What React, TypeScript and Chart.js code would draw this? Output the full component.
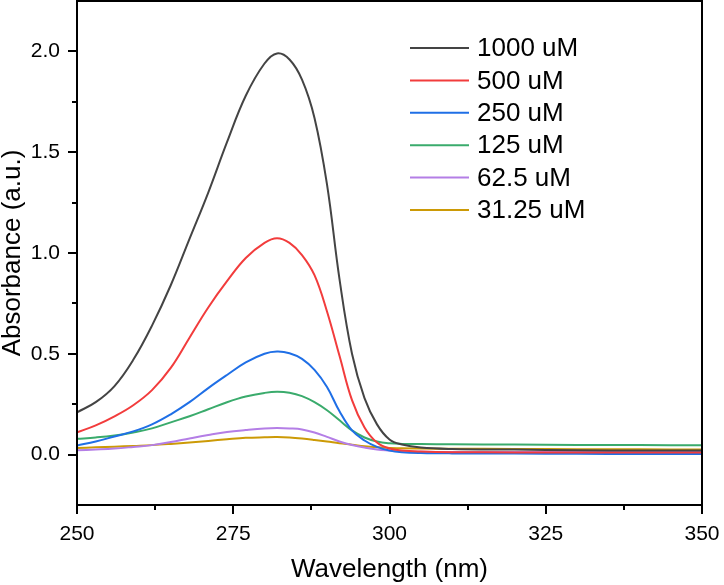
import { useEffect, useRef } from 'react';
import { Chart, registerables } from 'chart.js';

Chart.register(...registerables);

// ---- data ----
const wavelengths = [250, 253, 256, 259, 262, 265, 268, 271, 274, 277, 280, 282, 284, 286, 288, 290, 292, 294, 296, 298, 300, 302, 305, 310, 320, 330, 340, 350];

const abs1000 = [0.21, 0.26, 0.34, 0.47, 0.64, 0.84, 1.07, 1.30, 1.55, 1.78, 1.94, 1.99, 1.96, 1.86, 1.67, 1.34, 0.87, 0.50, 0.28, 0.15, 0.075, 0.05, 0.035, 0.028, 0.025, 0.022, 0.02, 0.02];
const abs500 = [0.11, 0.145, 0.19, 0.245, 0.32, 0.43, 0.58, 0.73, 0.86, 0.975, 1.05, 1.073, 1.05, 0.99, 0.89, 0.71, 0.49, 0.27, 0.135, 0.06, 0.03, 0.02, 0.015, 0.012, 0.011, 0.01, 0.01, 0.01];
const abs250 = [0.045, 0.065, 0.09, 0.115, 0.15, 0.2, 0.26, 0.33, 0.395, 0.457, 0.5, 0.511, 0.503, 0.475, 0.42, 0.335, 0.215, 0.12, 0.07, 0.038, 0.02, 0.012, 0.008, 0.006, 0.005, 0.004, 0.003, 0.003];
const abs125 = [0.078, 0.085, 0.095, 0.11, 0.13, 0.16, 0.19, 0.225, 0.26, 0.288, 0.306, 0.312, 0.307, 0.29, 0.26, 0.22, 0.17, 0.12, 0.085, 0.065, 0.056, 0.053, 0.052, 0.051, 0.05, 0.048, 0.047, 0.046];
const abs62 = [0.021, 0.025, 0.03, 0.038, 0.047, 0.062, 0.08, 0.097, 0.112, 0.122, 0.13, 0.132, 0.13, 0.125, 0.11, 0.088, 0.065, 0.048, 0.035, 0.025, 0.02, 0.016, 0.014, 0.013, 0.013, 0.013, 0.013, 0.013];
const abs31 = [0.033, 0.036, 0.039, 0.043, 0.047, 0.053, 0.06, 0.068, 0.076, 0.083, 0.086, 0.087, 0.085, 0.08, 0.073, 0.065, 0.056, 0.049, 0.041, 0.036, 0.033, 0.031, 0.03, 0.029, 0.028, 0.027, 0.026, 0.025];

const seriesLabels = ['1000 uM', '500 uM', '250 uM', '125 uM', '62.5 uM', '31.25 uM'];
const seriesValues = [abs1000, abs500, abs250, abs125, abs62, abs31];

const xTicks = [250, 275, 300, 325, 350];
const xMinorTicks = [262.5, 287.5, 312.5, 337.5];
const yTicks = [0, 0.5, 1.0, 1.5, 2.0];
const yMinorTicks = [0.25, 0.75, 1.25, 1.75];

// ---- style ----
const seriesColors = ['#444444', '#f23c3c', '#1f6fe6', '#3aab6c', '#b47ee6', '#cc9a06'];
const FONT = "'Liberation Sans', Arial, Helvetica, sans-serif";

const framePlugin = {
  id: 'frame',
  afterDraw(chart: any) {
    const { ctx, chartArea: a, scales } = chart;
    ctx.save();
    ctx.strokeStyle = '#000';
    ctx.lineWidth = 2;
    ctx.strokeRect(a.left, a.top, a.right - a.left, a.bottom - a.top);
    ctx.beginPath();
    xTicks.forEach((v) => {
      const x = Math.round(scales.x.getPixelForValue(v));
      ctx.moveTo(x, a.bottom);
      ctx.lineTo(x, a.bottom + 9);
    });
    xMinorTicks.forEach((v) => {
      const x = Math.round(scales.x.getPixelForValue(v));
      ctx.moveTo(x, a.bottom);
      ctx.lineTo(x, a.bottom + 5);
    });
    yTicks.forEach((v) => {
      const y = Math.round(scales.y.getPixelForValue(v));
      ctx.moveTo(a.left, y);
      ctx.lineTo(a.left - 9, y);
    });
    yMinorTicks.forEach((v) => {
      const y = Math.round(scales.y.getPixelForValue(v));
      ctx.moveTo(a.left, y);
      ctx.lineTo(a.left - 5, y);
    });
    ctx.stroke();

    // legend
    const lx = a.left + 333;
    const ly = a.top + 47;
    chart.data.datasets.forEach((ds: any, i: number) => {
      const y = ly + i * 32.4;
      ctx.strokeStyle = ds.borderColor;
      ctx.lineWidth = 2;
      ctx.beginPath();
      ctx.moveTo(lx, y);
      ctx.lineTo(lx + 59, y);
      ctx.stroke();
      ctx.fillStyle = '#000';
      ctx.font = `26px ${FONT}`;
      ctx.textBaseline = 'middle';
      ctx.textAlign = 'left';
      ctx.fillText(ds.label, lx + 67, y + 1);
    });
    ctx.restore();
  },
};

const zeroPad = (scale: any) => {
  scale.paddingTop = 0;
  scale.paddingBottom = 0;
  scale.paddingLeft = 0;
  scale.paddingRight = 0;
};

export default function App() {
  const ref = useRef<HTMLCanvasElement | null>(null);

  useEffect(() => {
    if (!ref.current) return;
    const chart = new Chart(ref.current, {
      type: 'line',
      data: {
        labels: wavelengths,
        datasets: seriesLabels.map((label, i) => ({
          label,
          data: wavelengths.map((x, j) => ({ x, y: seriesValues[i][j] })),
          borderColor: seriesColors[i],
          backgroundColor: seriesColors[i],
          borderWidth: 2,
          pointRadius: 0,
          tension: 0.4,
          fill: false,
        })),
      },
      options: {
        responsive: false,
        maintainAspectRatio: false,
        animation: false,
        layout: { padding: { left: 0, right: 22, top: 1, bottom: 0 } },
        plugins: {
          legend: { display: false },
          tooltip: { enabled: false },
        },
        scales: {
          x: {
            type: 'linear',
            min: 250,
            max: 350,
            grid: { display: false, drawTicks: false },
            border: { display: false },
            afterBuildTicks: (scale: any) => {
              scale.ticks = xTicks.map((v) => ({ value: v }));
            },
            afterFit: (scale: any) => {
              scale.height = 80;
              zeroPad(scale);
            },
            ticks: {
              padding: 17,
              color: '#000',
              font: { family: FONT, size: 21 },
              maxRotation: 0,
              callback: (v: any) => String(v),
            },
            title: {
              display: true,
              text: 'Wavelength (nm)',
              color: '#000',
              font: { family: FONT, size: 26, lineHeight: 1 },
              padding: { top: 0, bottom: 2 },
            },
          },
          y: {
            type: 'linear',
            min: -0.25,
            max: 2.25,
            grid: { display: false, drawTicks: false },
            border: { display: false },
            afterBuildTicks: (scale: any) => {
              scale.ticks = yTicks.map((v) => ({ value: v }));
            },
            afterFit: (scale: any) => {
              scale.width = 77;
              zeroPad(scale);
            },
            ticks: {
              padding: 17,
              color: '#000',
              font: { family: FONT, size: 21 },
              callback: (v: any) => Number(v).toFixed(1),
            },
            title: {
              display: true,
              text: 'Absorbance (a.u.)',
              color: '#000',
              font: { family: FONT, size: 26, lineHeight: 1 },
              padding: 0,
            },
          },
        },
      },
      plugins: [framePlugin],
    });
    return () => chart.destroy();
  }, []);

  return (
    <div style={{ position: 'absolute', left: 0, top: 0, width: 724, height: 585, background: '#fff' }}>
      <canvas ref={ref} width={724} height={585} />
    </div>
  );
}
